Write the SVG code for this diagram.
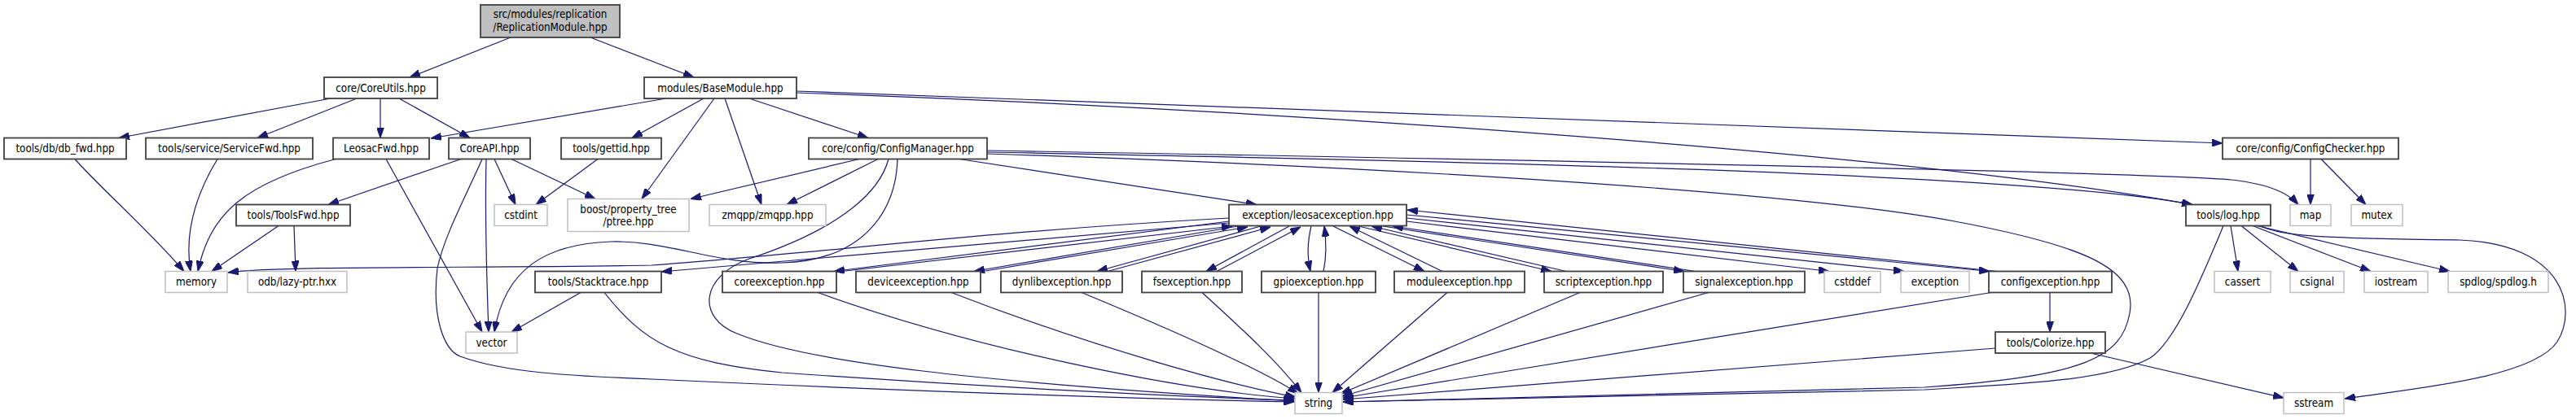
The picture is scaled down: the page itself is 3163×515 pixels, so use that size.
<svg xmlns="http://www.w3.org/2000/svg" width="3163" height="515" viewBox="0 0 3163 515">
<defs>
<style>
.n rect{fill:#fff;stroke:#404040;stroke-width:1.8}
.g rect{fill:#fff;stroke:#bfbfbf;stroke-width:1.5}
.r rect{fill:#bfbfbf;stroke:#404040;stroke-width:1.8}
text{font-family:"DejaVu Sans Condensed","Liberation Sans",Arial,sans-serif;font-size:13.3px;fill:#000;text-anchor:middle}
#edges path{fill:none;stroke:#191970;stroke-width:1.2;marker-end:url(#ah)}
</style>
<marker id="ah" markerUnits="userSpaceOnUse" markerWidth="13" markerHeight="9" viewBox="0 0 13 9" refX="13" refY="4.5" orient="auto">
<path d="M0,0 L13,4.5 L0,9 z" fill="#191970" stroke="#191970" stroke-width="1"/>
</marker>
</defs>
<rect width="3163" height="515" fill="#fff"/>
<g id="edges">
<path d="M627,46 L503,95"/>
<path d="M725,46 L852,95"/>
<path d="M406,121 L146,169.5"/>
<path d="M438,121 L316,169.5"/>
<path d="M467,121 L467,169.5"/>
<path d="M490,121 L577,169.5"/>
<path d="M818,121 L529,170"/>
<path d="M864,121 L776,169.5"/>
<path d="M877,121 L788,244.5"/>
<path d="M890,121 L935,251.5"/>
<path d="M920,121 L1066,169.5"/>
<path d="M978,112 L2729,176"/>
<path d="M978,114 C1600,136 2350,190 2692,251.5"/>
<path d="M92,195.5 C120,228 180,280 226,333.5"/>
<path d="M267,195.5 C240,240 226,285 234,333.5"/>
<path d="M412,195.5 C300,225 258,262 243,333.5"/>
<path d="M474,195.5 L592,408"/>
<path d="M566,195.5 L403,251.5"/>
<path d="M592,195.5 C575,235 545,290 537,330 C530,390 545,430 565,438 C620,458 700,462 800,466 C1100,480 1400,490 1589,494"/>
<path d="M597,195.5 C595,280 598,350 600,408"/>
<path d="M607,195.5 L633,251.5"/>
<path d="M628,195.5 L731,244.5"/>
<path d="M734,195.5 L658,251.5"/>
<path d="M1055,195.5 L848,244.5"/>
<path d="M1078,195.5 L966,251.5"/>
<path d="M1102,195.5 C1100,260 1060,320 960,323 C880,326 820,295 750,297 C670,300 620,330 607,408"/>
<path d="M1091,195.5 C1075,255 990,295 920,318 C860,340 855,390 905,410 C990,445 1200,470 1589,493"/>
<path d="M1178,195.5 L1543,251.5"/>
<path d="M1212,185 C1800,195 2650,212 2740,221 C2790,227 2810,238 2822,251.5"/>
<path d="M1212,187 C1900,200 2500,215 2692,251.5"/>
<path d="M1212,189 C1700,205 2200,235 2400,272 C2560,302 2625,330 2615,385 C2605,440 2560,462 2363,476 L1649,494"/>
<path d="M342,277.5 L260,333.5"/>
<path d="M361,277.5 L363,333.5"/>
<path d="M1509,268 C1200,285 1000,312 800,326 C600,330 350,326 280,335"/>
<path d="M1509,274 L812,334"/>
<path d="M1509,272 L1024,333.5"/>
<path d="M1034,333.5 L1513,278"/>
<path d="M1520,278 L1196,333.5"/>
<path d="M1207,333.5 L1532,279"/>
<path d="M1548,278 L1347,333.5"/>
<path d="M1360,333.5 L1560,279"/>
<path d="M1583,278 L1481,333.5"/>
<path d="M1494,333.5 L1597,279"/>
<path d="M1610,277.5 C1605,300 1605,315 1609,333.5"/>
<path d="M1625,333.5 C1629,315 1629,300 1626,278"/>
<path d="M1637,278 L1749,333.5"/>
<path d="M1771,333.5 L1657,278"/>
<path d="M1668,278 L1905,333.5"/>
<path d="M1923,333.5 L1684,278"/>
<path d="M1698,278 L2068,333.5"/>
<path d="M2082,333.5 L1710,278"/>
<path d="M1727,272 L2246,333.5"/>
<path d="M1727,268 L2338,333.5"/>
<path d="M1727,264 L2443,333.5"/>
<path d="M2452,333.5 L1728,258"/>
<path d="M1004,359.5 C1200,430 1450,480 1590,490"/>
<path d="M1168,359.5 C1350,430 1520,475 1591,488"/>
<path d="M1328,359.5 C1450,410 1560,460 1594,484"/>
<path d="M1476,359.5 C1520,400 1565,440 1598,482.5"/>
<path d="M1619,359.5 L1619,482.5"/>
<path d="M1777,359.5 L1636,482.5"/>
<path d="M1940,359.5 L1646,484"/>
<path d="M2098,359.5 L1648,487"/>
<path d="M2445,359.5 L1649,489"/>
<path d="M2517,359.5 L2517,408"/>
<path d="M2450,428 L1649,491"/>
<path d="M2567,434 L2804,489"/>
<path d="M713,359.5 L628,408"/>
<path d="M742,359.5 C790,420 830,445 960,458 C1200,475 1450,488 1589,492"/>
<path d="M2739,277.5 L2748,333.5"/>
<path d="M2752,277.5 L2822,333.5"/>
<path d="M2766,277.5 L2911,333.5"/>
<path d="M2771,277.5 L3008,333.5"/>
<path d="M2776,277.5 C2800,292 2880,293 3020,295 C3150,300 3165,380 3140,420 C3110,465 2960,478 2879,490"/>
<path d="M2730,277.5 C2700,350 2670,420 2640,440 C2590,468 2480,472 2363,479 L1649,494"/>
<path d="M2837,195.5 L2837,251.5"/>
<path d="M2850,195.5 L2905,251.5"/>
</g>
<g id="n_root" class="r"><rect x="590" y="6" width="171" height="40"/><text x="675.5" y="22">src/modules/replication</text><text x="675.5" y="37.5">/ReplicationModule.hpp</text></g>
<g id="n_coreutils" class="n"><rect x="398" y="95" width="139" height="26"/><text x="467.5" y="112.7">core/CoreUtils.hpp</text></g>
<g id="n_basemodule" class="n"><rect x="791" y="95" width="187" height="26"/><text x="884.5" y="112.7">modules/BaseModule.hpp</text></g>
<g id="n_dbfwd" class="n"><rect x="5" y="169.5" width="150" height="26"/><text x="80" y="187.2">tools/db/db_fwd.hpp</text></g>
<g id="n_servicefwd" class="n"><rect x="179" y="169.5" width="205" height="26"/><text x="281.5" y="187.2">tools/service/ServiceFwd.hpp</text></g>
<g id="n_leosacfwd" class="n"><rect x="409" y="169.5" width="118" height="26"/><text x="468" y="187.2">LeosacFwd.hpp</text></g>
<g id="n_coreapi" class="n"><rect x="551" y="169.5" width="100" height="26"/><text x="601" y="187.2">CoreAPI.hpp</text></g>
<g id="n_gettid" class="n"><rect x="689" y="169.5" width="123" height="26"/><text x="750.5" y="187.2">tools/gettid.hpp</text></g>
<g id="n_configmanager" class="n"><rect x="993" y="169.5" width="219" height="26"/><text x="1102.5" y="187.2">core/config/ConfigManager.hpp</text></g>
<g id="n_configchecker" class="n"><rect x="2729" y="169.5" width="216" height="26"/><text x="2837" y="187.2">core/config/ConfigChecker.hpp</text></g>
<g id="n_toolsfwd" class="n"><rect x="290" y="251.5" width="140" height="26"/><text x="360" y="269.2">tools/ToolsFwd.hpp</text></g>
<g id="n_cstdint" class="g"><rect x="607" y="251.5" width="65" height="26"/><text x="639.5" y="269.2">cstdint</text></g>
<g id="n_boost" class="g"><rect x="697" y="244.5" width="149" height="40"/><text x="771.5" y="261.5">boost/property_tree</text><text x="771.5" y="277">/ptree.hpp</text></g>
<g id="n_zmqpp" class="g"><rect x="871" y="251.5" width="143" height="26"/><text x="942.5" y="269.2">zmqpp/zmqpp.hpp</text></g>
<g id="n_leosacexception" class="n"><rect x="1509" y="251.5" width="218" height="26"/><text x="1618" y="269.2">exception/leosacexception.hpp</text></g>
<g id="n_log" class="n"><rect x="2684" y="251.5" width="104" height="26"/><text x="2736" y="269.2">tools/log.hpp</text></g>
<g id="n_map" class="g"><rect x="2812" y="251.5" width="50" height="26"/><text x="2837" y="269.2">map</text></g>
<g id="n_mutex" class="g"><rect x="2887" y="251.5" width="63" height="26"/><text x="2918.5" y="269.2">mutex</text></g>
<g id="n_memory" class="g"><rect x="203" y="333.5" width="76" height="26"/><text x="241" y="351.2">memory</text></g>
<g id="n_odb" class="g"><rect x="304" y="333.5" width="122" height="26"/><text x="365" y="351.2">odb/lazy-ptr.hxx</text></g>
<g id="n_stacktrace" class="n"><rect x="657" y="333.5" width="155" height="26"/><text x="734.5" y="351.2">tools/Stacktrace.hpp</text></g>
<g id="n_coreexception" class="n"><rect x="887" y="333.5" width="140" height="26"/><text x="957" y="351.2">coreexception.hpp</text></g>
<g id="n_deviceexception" class="n"><rect x="1051" y="333.5" width="153" height="26"/><text x="1127.5" y="351.2">deviceexception.hpp</text></g>
<g id="n_dynlibexception" class="n"><rect x="1229" y="333.5" width="149" height="26"/><text x="1303.5" y="351.2">dynlibexception.hpp</text></g>
<g id="n_fsexception" class="n"><rect x="1402" y="333.5" width="123" height="26"/><text x="1463.5" y="351.2">fsexception.hpp</text></g>
<g id="n_gpioexception" class="n"><rect x="1549" y="333.5" width="140" height="26"/><text x="1619" y="351.2">gpioexception.hpp</text></g>
<g id="n_moduleexception" class="n"><rect x="1712" y="333.5" width="160" height="26"/><text x="1792" y="351.2">moduleexception.hpp</text></g>
<g id="n_scriptexception" class="n"><rect x="1896" y="333.5" width="146" height="26"/><text x="1969" y="351.2">scriptexception.hpp</text></g>
<g id="n_signalexception" class="n"><rect x="2067" y="333.5" width="149" height="26"/><text x="2141.5" y="351.2">signalexception.hpp</text></g>
<g id="n_cstddef" class="g"><rect x="2240" y="333.5" width="69" height="26"/><text x="2274.5" y="351.2">cstddef</text></g>
<g id="n_exception" class="g"><rect x="2334" y="333.5" width="84" height="26"/><text x="2376" y="351.2">exception</text></g>
<g id="n_configexception" class="n"><rect x="2442" y="333.5" width="151" height="26"/><text x="2517.5" y="351.2">configexception.hpp</text></g>
<g id="n_cassert" class="g"><rect x="2719" y="333.5" width="69" height="26"/><text x="2753.5" y="351.2">cassert</text></g>
<g id="n_csignal" class="g"><rect x="2812" y="333.5" width="66" height="26"/><text x="2845" y="351.2">csignal</text></g>
<g id="n_iostream" class="g"><rect x="2903" y="333.5" width="78" height="26"/><text x="2942" y="351.2">iostream</text></g>
<g id="n_spdlog" class="g"><rect x="3006" y="333.5" width="123" height="26"/><text x="3067.5" y="351.2">spdlog/spdlog.h</text></g>
<g id="n_vector" class="g"><rect x="572" y="408" width="63" height="26"/><text x="603.5" y="425.7">vector</text></g>
<g id="n_colorize" class="n"><rect x="2450" y="408" width="135" height="26"/><text x="2517.5" y="425.7">tools/Colorize.hpp</text></g>
<g id="n_string" class="g"><rect x="1590" y="482.5" width="58" height="26"/><text x="1619" y="500.2">string</text></g>
<g id="n_sstream" class="g"><rect x="2804" y="482.5" width="74" height="26"/><text x="2841" y="500.2">sstream</text></g>
</svg>
